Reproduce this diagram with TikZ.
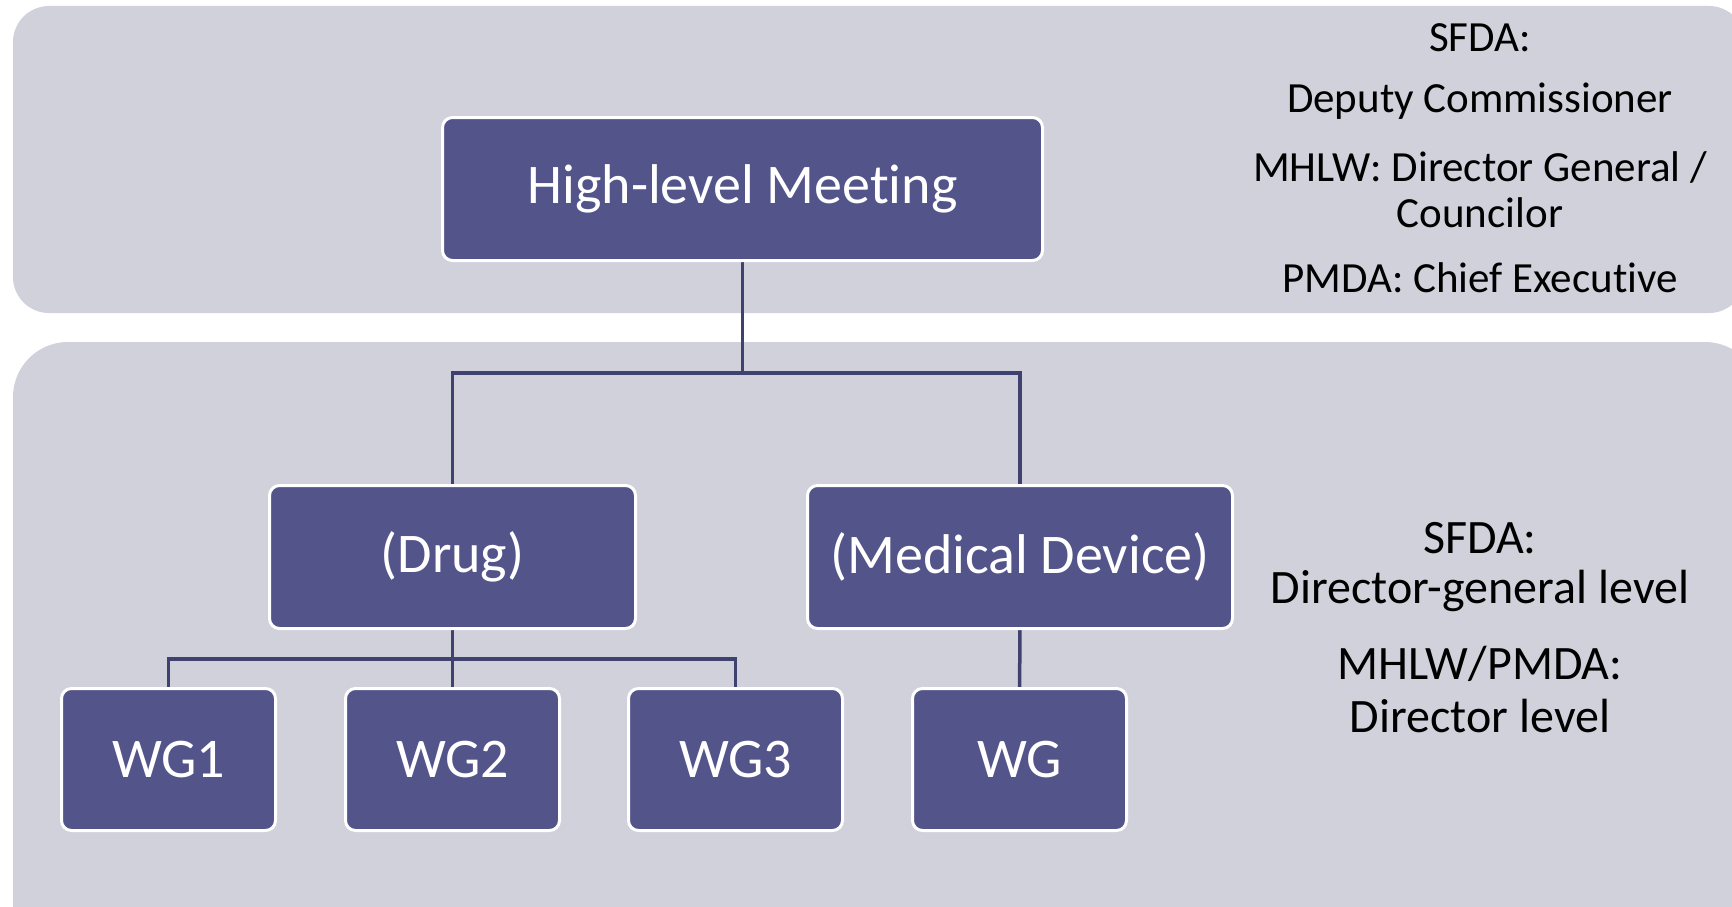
\documentclass[tikz,border=0pt]{standalone}
\usepackage{fontspec}
\setmainfont{Carlito}[Ligatures={NoCommon}]
\definecolor{panelc}{HTML}{D0D1DB}
\definecolor{boxc}{HTML}{53548A}
\definecolor{linec}{HTML}{3F416F}
\pgfdeclarelayer{bg}
\pgfdeclarelayer{lines}
\pgfsetlayers{bg,lines,main}
\tikzset{
  panel/.style={fill=panelc, draw=none},
  box/.style={draw=white, line width=3pt, fill=boxc, rounded corners=10pt, text=white,
    font=\fontsize{56}{62}\selectfont, inner sep=0pt, minimum height=143pt},
  conn/.style={draw=linec, line width=3.5pt},
  side/.style={align=center, font=\fontsize{43}{46}\selectfont, text=black, inner sep=0pt},
  sideb/.style={side, font=\fontsize{48}{52}\selectfont}
}
\begin{document}
\begin{tikzpicture}[x=1pt,y=-1pt]
\useasboundingbox (0,0) rectangle (1732,907);
\clip (0,0) rectangle (1732,907);
\begin{pgfonlayer}{bg}
\fill[panel, rounded corners=36pt] (13,6) rectangle (1745,313);
\fill[panel, rounded corners=55pt] (13,342) rectangle (1760,960);
\end{pgfonlayer}
\node[box, minimum width=600pt, minimum height=143pt] (hlm) at (742.5,189) {High-level Meeting};
\node[box, minimum width=366pt] (drug) at (452.5,557) {(Drug)};
\node[box, minimum width=425pt] (md) at (1020,557) {(Medical Device)};
\node[box, minimum width=214pt, minimum height=142pt] (wg1) at (168.5,759.5) {WG1};
\node[box, minimum width=214pt, minimum height=142pt] (wg2) at (452.5,759.5) {WG2};
\node[box, minimum width=214pt, minimum height=142pt] (wg3) at (735.5,759.5) {WG3};
\node[box, minimum width=214pt, minimum height=142pt] (wgm) at (1019.5,759.5) {WG};
\coordinate (b1) at (742.5,373);
\coordinate (b2) at (452.5,659);
\begin{pgfonlayer}{lines}
\draw[conn] (hlm.center) -- (b1);
\draw[conn] (drug.center) |- (b1) -| (md.center);
\draw[conn] (drug.center) -- (wg2.center);
\draw[conn] (wg1.center) |- (b2) -| (wg3.center);
\draw[conn] (md.center) -- (wgm.center);
\end{pgfonlayer}
\node[side] (t1) at (1480,37.5) {SFDA:};
\node[side] (t2) at (1480,101.5) {Deputy Commissioner};
\node[side] (t3) at (1480,190) {MHLW: Director General /\\Councilor};
\node[side] (t4) at (1480,278) {PMDA: Chief Executive};
\node[sideb] (u1) at (1480,538) {SFDA:};
\node[sideb] (u2) at (1480,591) {Director-general level};
\node[sideb] (u3) at (1480,664) {MHLW/PMDA:};
\node[sideb] (u4) at (1480,716) {Director level};
\end{tikzpicture}
\end{document}
